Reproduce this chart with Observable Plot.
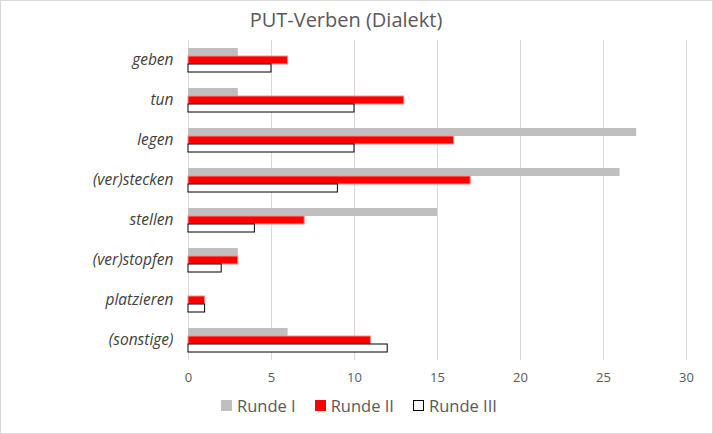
<!DOCTYPE html>
<html>
<head>
<meta charset="utf-8">
<script src="https://cdn.jsdelivr.net/npm/d3@7"></script>
<script src="https://cdn.jsdelivr.net/npm/@observablehq/plot@0.6"></script>
<style>
  html, body { margin: 0; padding: 0; background: #fff; }
  #chart { position: relative; width: 711px; height: 432px; border: 1px solid #d9d9d9; font-family: "Open Sans", sans-serif; overflow: hidden; }
  #title { height: 39px; line-height: 38px; font-size: 20px; color: #595959; width: 690px; text-align: center; }
  #legend { position: absolute; top: 393px; left: 220px; display: flex; align-items: center; font-size: 16.5px; color: #595959; }
  .item { display: flex; align-items: center; margin-right: 19px; }
  .sw { width: 11px; height: 11px; box-sizing: border-box; margin-right: 5px; }
  svg g[aria-label="fy-axis tick label"] text { font-style: italic; font-size: 15.5px; fill: #404040; }
  svg g[aria-label="x-axis tick label"] text { font-size: 13px; fill: #595959; }
</style>
</head>
<body>
<div id="chart">
  <div id="title">PUT-Verben (Dialekt)</div>
  <div id="plot"></div>
  <div id="legend"></div>
</div>
<script>
const categories = ["geben", "tun", "legen", "(ver)stecken", "stellen", "(ver)stopfen", "platzieren", "(sonstige)"];
const series = ["Runde I", "Runde II", "Runde III"];
const rundeI = [3, 3, 27, 26, 15, 3, 0, 6];
const rundeII = [6, 13, 16, 17, 7, 3, 1, 11];
const rundeIII = [5, 10, 10, 9, 4, 2, 1, 12];
const xTicks = [0, 5, 10, 15, 20, 25, 30];

const values = [rundeI, rundeII, rundeIII];
const rows = [];
series.forEach((s, i) => categories.forEach((c, j) => rows.push({series: s, category: c, value: values[i][j]})));

const styles = {
  "Runde I": {fill: "#bfbfbf", stroke: "none"},
  "Runde II": {fill: "#ff0000", stroke: "#ff8c8c"},
  "Runde III": {fill: "#ffffff", stroke: "#000000"}
};

const plot = Plot.plot({
  width: 711,
  height: 350,
  marginLeft: 187,
  marginRight: 26,
  marginTop: 0,
  marginBottom: 30,
  style: {fontFamily: "'Open Sans', sans-serif", background: "white"},
  x: {domain: [0, 30], ticks: xTicks, grid: true, label: null, tickSize: 0, tickPadding: 12},
  y: {domain: series, paddingInner: 0, paddingOuter: 0.88, axis: null},
  fy: {domain: categories, padding: 0, label: null, tickSize: 0, tickPadding: 15},
  marks: [
    Plot.gridX(xTicks, {stroke: "#d9d9d9", strokeOpacity: 1, strokeWidth: 1}),
    ...series.map(s => Plot.barX(rows.filter(d => d.series === s), {
      x: "value", y: "series", fy: "category",
      fill: styles[s].fill, stroke: styles[s].stroke, strokeWidth: 1
    }))
  ]
});
document.getElementById("plot").appendChild(plot);

const legend = document.getElementById("legend");
series.forEach(s => {
  const it = document.createElement("div");
  it.className = "item";
  const sw = document.createElement("div");
  sw.className = "sw";
  sw.style.background = styles[s].fill;
  if (s === "Runde III") sw.style.border = "1px solid #000";
  const t = document.createElement("span");
  t.textContent = s;
  it.appendChild(sw); it.appendChild(t);
  legend.appendChild(it);
});
</script>
</body>
</html>
